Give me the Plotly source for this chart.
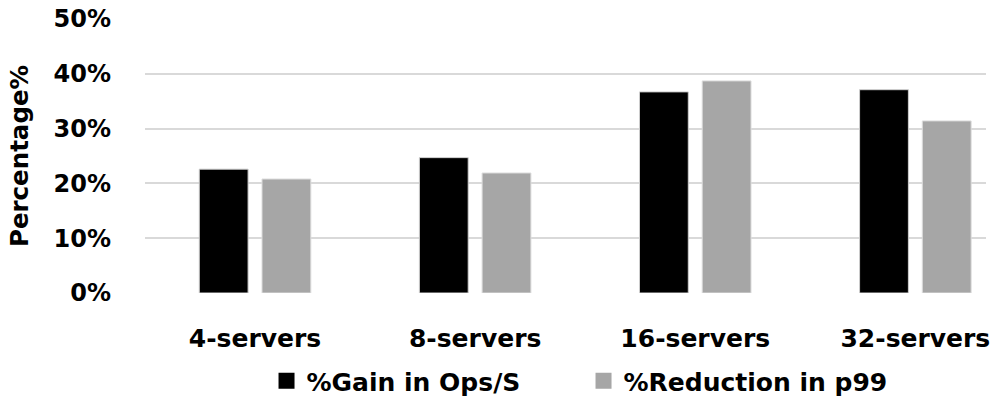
import plotly.graph_objects as go

categories = ["4-servers", "8-servers", "16-servers", "32-servers"]
gain_ops = [22.6, 24.7, 36.7, 37.1]
reduction_p99 = [20.8, 21.9, 38.7, 31.4]
series_names = ["%Gain in Ops/S", "%Reduction in p99"]
y_ticks = [0, 10, 20, 30, 40, 50]
y_tick_labels = ["0%", "10%", "20%", "30%", "40%", "50%"]

FONT = "DejaVu Sans"
BLACK = "#000000"
GRAY = "#a6a6a6"
GRID = "#d9d9d9"

fig = go.Figure()
fig.add_trace(go.Bar(x=categories, y=gain_ops, name=series_names[0],
                     marker=dict(color=BLACK, line=dict(color="#cfcfcf", width=1)),
                     showlegend=False))
fig.add_trace(go.Bar(x=categories, y=reduction_p99, name=series_names[1],
                     marker=dict(color=GRAY, line=dict(color="#dcdcdc", width=1)),
                     showlegend=False))
# legend entries
fig.add_trace(go.Scatter(x=[None], y=[None], mode="markers", name=series_names[0],
                         marker=dict(symbol="square", size=18, color=BLACK)))
fig.add_trace(go.Scatter(x=[None], y=[None], mode="markers", name=series_names[1],
                         marker=dict(symbol="square", size=18, color=GRAY)))

fig.update_layout(
    width=990, height=402,
    margin=dict(l=145, r=0, t=19, b=109),
    paper_bgcolor="white", plot_bgcolor="white",
    barmode="group", bargap=0.43, bargroupgap=0.222,
    font=dict(family=FONT, color="black", size=25),
    legend=dict(orientation="h", x=0.1445, xanchor="left",
                yref="container", y=(402 - 381) / 402, yanchor="middle",
                font=dict(family=FONT, size=25, color="black", weight="bold"),
                entrywidth=272, entrywidthmode="pixels",
                bgcolor="rgba(0,0,0,0)"),
    xaxis=dict(type="category", range=[-0.5, 3.321], showgrid=False, showline=False,
               zeroline=False, ticks="", ticklabelstandoff=28,
               tickfont=dict(family=FONT, size=25, color="black", weight="bold")),
    yaxis=dict(range=[0, 50], tickvals=y_ticks, ticktext=y_tick_labels,
               showgrid=True, gridcolor=GRID, gridwidth=1.8, zeroline=False,
               showline=False, ticks="", ticklabelstandoff=33,
               tickfont=dict(family=FONT, size=24, color="black", weight="bold"),
               title=dict(text="Percentage%", standoff=17,
                          font=dict(family=FONT, size=24.5, color="black", weight="bold"))),
)

fig.write_html("out.html", config={"displayModeBar": False},
               post_script="document.body.style.margin='0';document.body.style.padding='0';")
